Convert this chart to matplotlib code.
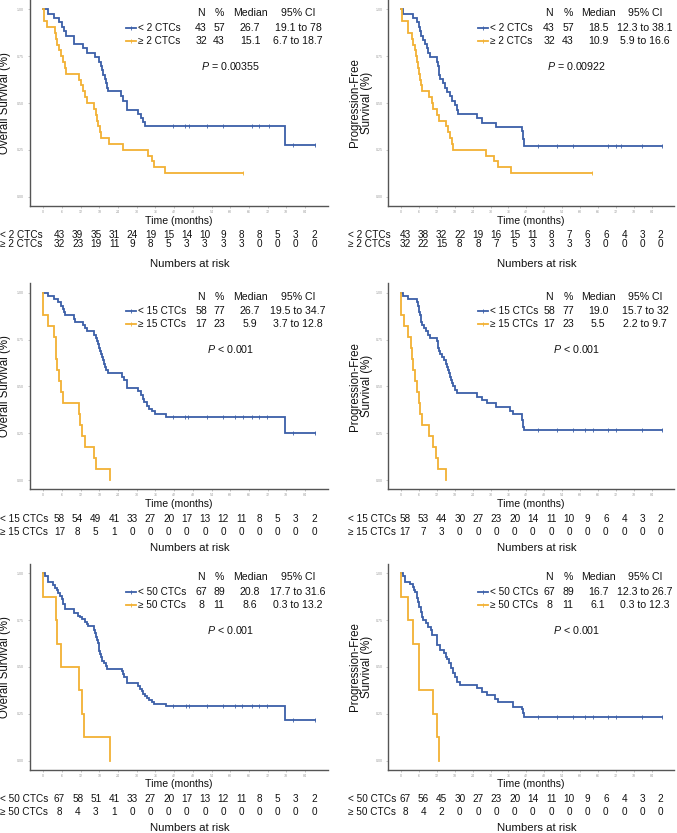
import matplotlib
matplotlib.use("Agg")
import matplotlib.pyplot as plt
import numpy as np

plt.rcParams['font.family'] = ['Liberation Sans', 'DejaVu Sans']
plt.rcParams['mathtext.fontset'] = 'custom'
plt.rcParams['mathtext.it'] = 'Liberation Sans:italic'
plt.rcParams['mathtext.rm'] = 'Liberation Sans'

# ---------------------------------------------------------------- data
time_ticks = [0, 6, 12, 18, 24, 30, 36, 42, 48, 54, 60, 66, 72, 78, 84]
y_ticks = [0.00, 0.25, 0.50, 0.75, 1.00]

# Panel 1: OS, 2 CTCs
os2_lo_t = [0, 1.39, 3.53, 5.03, 5.89, 6.63, 7.28, 9.84, 12.63, 14.13, 16.59, 17.87, 18.51, 18.94, 19.26,
            19.69, 20.12, 20.44, 20.87, 24.83, 25.68, 26.75, 30.50, 31.25, 31.89, 32.64, 77.58]
os2_lo_s = [1.0, 0.977, 0.953, 0.930, 0.907, 0.884, 0.860, 0.814, 0.791, 0.767, 0.744, 0.721, 0.698, 0.674, 0.651,
            0.628, 0.605, 0.581, 0.565, 0.535, 0.510, 0.465, 0.442, 0.420, 0.400, 0.375, 0.275]
os2_lo_end = 87.2
os2_lo_cens = [41.7, 45.5, 46.9, 52.4, 57.6, 66.9, 69.3, 72.6, 80.3, 87.2]
os2_hi_t = [0, 0.2, 1.2, 3.75, 4.07, 4.49, 5.14, 5.78, 6.31, 6.85, 7.28, 11.45, 12.09, 12.84, 13.48, 13.91,
            16.37, 16.91, 17.23, 17.66, 18.08, 18.62, 21.19, 25.68, 33.6, 34.78, 35.53, 39.17]
os2_hi_s = [1.0, 0.938, 0.906, 0.875, 0.844, 0.812, 0.781, 0.75, 0.719, 0.688, 0.656, 0.625, 0.594, 0.562, 0.531,
            0.5, 0.469, 0.438, 0.406, 0.375, 0.344, 0.312, 0.281, 0.25, 0.219, 0.188, 0.156, 0.125]
os2_hi_end = 64.0
os2_hi_cens = [64.0]
os2_lo_risk = [43, 39, 35, 31, 24, 19, 15, 14, 10, 9, 8, 8, 5, 3, 2]
os2_hi_risk = [32, 23, 19, 11, 9, 8, 5, 3, 3, 3, 3, 0, 0, 0, 0]
os2_lo_stats = [43, 57, 26.7, 19.1, 78]
os2_hi_stats = [32, 43, 15.1, 6.7, 18.7]
os2_p = "= 0.00355"

# Panel 2: PFS, 2 CTCs
pfs2_lo_t = [0, 0.78, 3.91, 5.25, 6.03, 6.37, 6.70, 7.49, 8.04, 8.60, 9.16, 9.72, 12.18, 12.40, 12.63, 12.85,
             13.07, 14.19, 14.86, 15.53, 16.42, 16.98, 18.10, 18.66, 19.22, 25.36, 27.04, 31.84, 40.45, 40.89, 41.34]
pfs2_lo_s = [1.0, 0.977, 0.953, 0.930, 0.907, 0.884, 0.860, 0.837, 0.814, 0.791, 0.767, 0.744, 0.721, 0.698, 0.674,
             0.651, 0.628, 0.605, 0.581, 0.558, 0.535, 0.512, 0.488, 0.465, 0.442, 0.419, 0.395, 0.372, 0.349, 0.310,
             0.272]
pfs2_lo_end = 87.4
pfs2_lo_cens = [46.0, 52.4, 57.5, 69.5, 72.1, 73.7, 80.7, 87.4]
pfs2_hi_t = [0, 0.2, 2.2, 3.6, 4.1, 4.7, 5.1, 5.5, 5.8, 6.1, 6.5, 6.8, 7.0, 9.5, 10.3, 10.8, 12.0, 12.6, 15.1,
             15.9, 16.4, 17.0, 17.5, 28.5, 31.3, 32.6, 36.8]
pfs2_hi_s = [1.0, 0.938, 0.875, 0.844, 0.812, 0.781, 0.75, 0.719, 0.688, 0.656, 0.625, 0.594, 0.562, 0.531, 0.5,
             0.469, 0.438, 0.406, 0.375, 0.344, 0.312, 0.281, 0.25, 0.219, 0.188, 0.156, 0.125]
pfs2_hi_end = 63.9
pfs2_hi_cens = [63.9]
pfs2_lo_risk = [43, 38, 32, 22, 19, 16, 15, 11, 8, 7, 6, 6, 4, 3, 2]
pfs2_hi_risk = [32, 22, 15, 8, 8, 7, 5, 3, 3, 3, 3, 0, 0, 0, 0]
pfs2_lo_stats = [43, 57, 18.5, 12.3, 38.1]
pfs2_hi_stats = [32, 43, 10.9, 5.9, 16.6]
pfs2_p = "= 0.00922"

# Panel 3: OS, 15 CTCs
os15_lo_t = [0, 1.39, 3.53, 4.82, 5.67, 6.42, 6.74, 7.06, 9.84, 10.06, 12.63, 13.38, 14.13, 16.37, 16.91, 17.34,
             17.66, 17.87, 18.19, 18.51, 18.73, 19.05, 19.37, 19.80, 20.22, 20.87, 25.15, 25.90, 26.75, 30.50,
             31.25, 31.89, 32.32, 33.17, 33.92, 34.78, 35.85, 39.27, 77.58]
os15_lo_s = [1.0, 0.983, 0.966, 0.948, 0.931, 0.914, 0.897, 0.879, 0.862, 0.845, 0.828, 0.810, 0.793, 0.776,
             0.759, 0.741, 0.724, 0.707, 0.690, 0.672, 0.655, 0.638, 0.621, 0.603, 0.586, 0.569, 0.552, 0.534,
             0.490, 0.473, 0.455, 0.434, 0.414, 0.397, 0.380, 0.367, 0.351, 0.338, 0.253]
os15_lo_end = 87.2
os15_lo_cens = [41.7, 45.5, 46.6, 52.4, 57.6, 61.5, 64.2, 66.9, 69.3, 71.7, 80.3, 87.2]
os15_hi_t = [0, 0.05, 1.39, 3.53, 3.96, 4.17, 4.39, 5.03, 5.57, 6.31, 11.45, 11.77, 12.52, 13.27, 16.27,
             16.91, 21.40]
os15_hi_s = [1.0, 0.882, 0.824, 0.765, 0.706, 0.647, 0.588, 0.529, 0.471, 0.412, 0.353, 0.294, 0.235, 0.176,
             0.118, 0.059, 0.0]
os15_hi_end = 21.40
os15_hi_cens = []
os15_lo_risk = [58, 54, 49, 41, 33, 27, 20, 17, 13, 12, 11, 8, 5, 3, 2]
os15_hi_risk = [17, 8, 5, 1, 0, 0, 0, 0, 0, 0, 0, 0, 0, 0, 0]
os15_lo_stats = [58, 77, 26.7, 19.5, 34.7]
os15_hi_stats = [17, 23, 5.9, 3.7, 12.8]
os15_p = "< 0.001"

# Panel 4: PFS, 15 CTCs
pfs15_lo_t = [0, 0.78, 2.46, 5.25, 5.70, 5.92, 6.15, 6.37, 6.59, 6.82, 7.15, 7.60, 8.27, 8.94, 9.72, 12.18,
              12.29, 12.40, 12.63, 13.07, 13.63, 14.41, 15.08, 15.53, 15.87, 16.20, 16.54, 16.87, 17.21, 17.54,
              18.10, 18.88, 25.36, 27.04, 28.72, 31.84, 36.54, 37.65, 40.45, 41.01, 41.34]
pfs15_lo_s = [1.0, 0.983, 0.966, 0.948, 0.931, 0.914, 0.897, 0.879, 0.862, 0.845, 0.828, 0.810, 0.793, 0.776,
              0.759, 0.741, 0.724, 0.707, 0.690, 0.672, 0.655, 0.638, 0.621, 0.603, 0.586, 0.569, 0.552, 0.534,
              0.517, 0.500, 0.483, 0.466, 0.445, 0.427, 0.410, 0.390, 0.370, 0.350, 0.320, 0.285, 0.267]
pfs15_lo_end = 87.4
pfs15_lo_cens = [46.0, 52.4, 57.5, 61.7, 64.5, 69.5, 72.1, 80.7, 87.4]
pfs15_hi_t = [0, 0.05, 1.1, 2.2, 3.4, 3.6, 4.1, 4.7, 5.5, 5.9, 6.4, 6.9, 9.5, 10.6, 11.7, 12.5, 15.1]
pfs15_hi_s = [1.0, 0.882, 0.824, 0.765, 0.706, 0.647, 0.588, 0.529, 0.471, 0.412, 0.353, 0.294, 0.235, 0.176,
              0.118, 0.059, 0.0]
pfs15_hi_end = 15.1
pfs15_hi_cens = []
pfs15_lo_risk = [58, 53, 44, 30, 27, 23, 20, 14, 11, 10, 9, 6, 4, 3, 2]
pfs15_hi_risk = [17, 7, 3, 0, 0, 0, 0, 0, 0, 0, 0, 0, 0, 0, 0]
pfs15_lo_stats = [58, 77, 19.0, 15.7, 32]
pfs15_hi_stats = [17, 23, 5.5, 2.2, 9.7]
pfs15_p = "< 0.001"

# Panel 5: OS, 50 CTCs
os50_lo_t = [0, 0.54, 1.39, 3.21, 3.75, 4.28, 4.82, 5.35, 5.89, 6.42, 6.96, 9.85, 11.24, 11.77, 12.31, 13.38,
             13.91, 14.23, 16.27, 16.59, 16.91, 17.12, 17.44, 17.76, 17.98, 18.30, 18.62, 18.94, 19.48, 20.12,
             20.55, 25.15, 25.47, 25.90, 26.75, 30.50, 31.03, 31.57, 32.10, 32.64, 33.17, 33.92, 34.78, 35.53,
             39.27, 77.58]
os50_lo_s = [1.0, 0.986, 0.956, 0.938, 0.924, 0.909, 0.893, 0.879, 0.863, 0.835, 0.808, 0.786, 0.772, 0.765,
             0.754, 0.742, 0.728, 0.717, 0.698, 0.680, 0.662, 0.644, 0.626, 0.605, 0.587, 0.569, 0.552, 0.534,
             0.520, 0.505, 0.491, 0.477, 0.463, 0.445, 0.416, 0.399, 0.384, 0.370, 0.358, 0.345, 0.335, 0.324,
             0.313, 0.302, 0.292, 0.217]
os50_lo_end = 87.2
os50_lo_cens = [41.7, 45.9, 46.8, 52.4, 57.6, 61.5, 63.9, 66.9, 69.3, 71.7, 80.3, 87.2]
os50_hi_t = [0, 0.05, 4.07, 4.49, 5.67, 11.45, 12.52, 13.06, 21.40]
os50_hi_s = [1.0, 0.875, 0.75, 0.625, 0.5, 0.375, 0.25, 0.125, 0.0]
os50_hi_end = 21.40
os50_hi_cens = []
os50_lo_risk = [67, 58, 51, 41, 33, 27, 20, 17, 13, 12, 11, 8, 5, 3, 2]
os50_hi_risk = [8, 4, 3, 1, 0, 0, 0, 0, 0, 0, 0, 0, 0, 0, 0]
os50_lo_stats = [67, 89, 20.8, 17.7, 31.6]
os50_hi_stats = [8, 11, 8.6, 0.3, 13.2]
os50_p = "< 0.001"

# Panel 6: PFS, 50 CTCs
pfs50_lo_t = [0, 0.78, 1.34, 3.02, 3.91, 4.36, 4.80, 5.25, 5.48, 5.81, 6.15, 6.59, 6.93, 7.49, 8.38, 9.16,
              9.94, 10.28, 12.18, 13.07, 14.41, 15.08, 15.53, 16.20, 16.76, 17.32, 18.10, 18.88, 19.78, 25.36,
              27.04, 28.72, 31.51, 32.63, 37.65, 40.45, 41.01, 41.34]
pfs50_lo_s = [1.0, 0.986, 0.956, 0.943, 0.929, 0.911, 0.899, 0.884, 0.866, 0.849, 0.822, 0.795, 0.769, 0.751,
              0.733, 0.715, 0.698, 0.671, 0.617, 0.591, 0.573, 0.555, 0.541, 0.520, 0.493, 0.466, 0.448, 0.422,
              0.404, 0.386, 0.368, 0.351, 0.331, 0.313, 0.288, 0.274, 0.253, 0.235]
pfs50_lo_end = 87.4
pfs50_lo_cens = [46.0, 52.4, 57.5, 61.7, 64.5, 69.5, 72.1, 80.7, 87.4]
pfs50_hi_t = [0, 0.05, 2.23, 4.13, 5.92, 6.03, 10.84, 12.18, 12.74]
pfs50_hi_s = [1.0, 0.875, 0.75, 0.625, 0.5, 0.375, 0.25, 0.125, 0.0]
pfs50_hi_end = 12.74
pfs50_hi_cens = []
pfs50_lo_risk = [67, 56, 45, 30, 27, 23, 20, 14, 11, 10, 9, 6, 4, 3, 2]
pfs50_hi_risk = [8, 4, 2, 0, 0, 0, 0, 0, 0, 0, 0, 0, 0, 0, 0]
pfs50_lo_stats = [67, 89, 16.7, 12.3, 26.7]
pfs50_hi_stats = [8, 11, 6.1, 0.3, 12.3]
pfs50_p = "< 0.001"

group_labels = [("< 2 CTCs", "\u2265 2 CTCs"), ("< 15 CTCs", "\u2265 15 CTCs"), ("< 50 CTCs", "\u2265 50 CTCs")]
ylabels = ["Overall Survival (%)", "Progression-Free\nSurvival (%)"]
xlabel = "Time (months)"
risk_title = "Numbers at risk"
table_header = ["N", "%", "Median", "95% CI"]

panels = [
    [dict(lo=(os2_lo_t, os2_lo_s, os2_lo_end, os2_lo_cens, os2_lo_risk, os2_lo_stats),
          hi=(os2_hi_t, os2_hi_s, os2_hi_end, os2_hi_cens, os2_hi_risk, os2_hi_stats), p=os2_p),
     dict(lo=(pfs2_lo_t, pfs2_lo_s, pfs2_lo_end, pfs2_lo_cens, pfs2_lo_risk, pfs2_lo_stats),
          hi=(pfs2_hi_t, pfs2_hi_s, pfs2_hi_end, pfs2_hi_cens, pfs2_hi_risk, pfs2_hi_stats), p=pfs2_p)],
    [dict(lo=(os15_lo_t, os15_lo_s, os15_lo_end, os15_lo_cens, os15_lo_risk, os15_lo_stats),
          hi=(os15_hi_t, os15_hi_s, os15_hi_end, os15_hi_cens, os15_hi_risk, os15_hi_stats), p=os15_p),
     dict(lo=(pfs15_lo_t, pfs15_lo_s, pfs15_lo_end, pfs15_lo_cens, pfs15_lo_risk, pfs15_lo_stats),
          hi=(pfs15_hi_t, pfs15_hi_s, pfs15_hi_end, pfs15_hi_cens, pfs15_hi_risk, pfs15_hi_stats), p=pfs15_p)],
    [dict(lo=(os50_lo_t, os50_lo_s, os50_lo_end, os50_lo_cens, os50_lo_risk, os50_lo_stats),
          hi=(os50_hi_t, os50_hi_s, os50_hi_end, os50_hi_cens, os50_hi_risk, os50_hi_stats), p=os50_p),
     dict(lo=(pfs50_lo_t, pfs50_lo_s, pfs50_lo_end, pfs50_lo_cens, pfs50_lo_risk, pfs50_lo_stats),
          hi=(pfs50_hi_t, pfs50_hi_s, pfs50_hi_end, pfs50_hi_cens, pfs50_hi_risk, pfs50_hi_stats), p=pfs50_p)],
]

# ---------------------------------------------------------------- style / layout
W, H = 677, 833
BLUE = "#3c5fa8"
ORANGE = "#f2b134"
TXT = "#111111"
SPINE = "#555555"
TICK = "#9a9a9a"

col_geom = [
    dict(ax_l=29.75, ax_r=327.9, ylab_x=5.5, risk_lab_x=0.5, risk_x0=59.5, risk_dx=3.03 / 1.0,
         nar_x=190, leg_line=(126, 136), leg_lab_x=138, leg_cols=(201, 219, 250, 298), p_x=231),
    dict(ax_l=388, ax_r=673.6, ylab_x=361, risk_lab_x=347.5, risk_x0=405, risk_dx=3.044,
         nar_x=537, leg_line=(478, 488), leg_lab_x=490, leg_cols=(549, 568, 598, 645), p_x=577),
]
row_geom = [
    dict(top=-0.07, bot=206.1, time_y=220.7, r1=235, r2=244.3, nar_y=264.3),
    dict(top=283.3, bot=489.4, time_y=504, r1=519.3, r2=531.7, nar_y=548.3),
    dict(top=564, bot=770, time_y=784, r1=799.3, r2=811.7, nar_y=828.3),
]

fig = plt.figure(figsize=(W / 100, H / 100), dpi=100)
ov = fig.add_axes([0, 0, 1, 1], zorder=10)
ov.set_xlim(0, W)
ov.set_ylim(H, 0)
ov.axis("off")


def fmt(v):
    return ("%g" % v)


def draw_curve(ax, t, s, end, cens, color):
    x = list(t) + [end]
    y = list(s) + [s[-1]]
    ax.step(x, y, where="post", color=color, lw=1.3, solid_joinstyle="miter", zorder=3)
    if cens:
        idx = np.searchsorted(np.array(t), np.array(cens), side="right") - 1
        cy = np.array(s)[idx]
        ax.plot(cens, cy, ls="none", marker="|", ms=3.2, mew=0.6, color=color, zorder=4)


for r, rg in enumerate(row_geom):
    for c, cg in enumerate(col_geom):
        pdat = panels[r][c]
        l, rr = cg["ax_l"], cg["ax_r"]
        top, bot = rg["top"], rg["bot"]
        ax = fig.add_axes([l / W, 1 - bot / H, (rr - l) / W, (bot - top) / H])
        ax.set_xlim(-4.35, 91.35)
        ax.set_ylim(-0.05, 1.05)
        for side in ("top", "right"):
            ax.spines[side].set_visible(False)
        for side in ("left", "bottom"):
            ax.spines[side].set_color(SPINE)
            ax.spines[side].set_linewidth(1.0)
        ax.set_xticks(time_ticks)
        ax.set_xticklabels([str(v) for v in time_ticks])
        ax.set_yticks(y_ticks)
        ax.set_yticklabels(["%.2f" % v for v in y_ticks])
        ax.tick_params(axis="both", labelsize=2.6, labelcolor=TICK, color=TICK, length=1.5, width=0.4)
        ax.tick_params(axis="x", pad=1.2)
        ax.tick_params(axis="y", pad=2.5)

        draw_curve(ax, *pdat["lo"][:4], BLUE)
        draw_curve(ax, *pdat["hi"][:4], ORANGE)

        # y label
        ov.text(cg["ylab_x"], (top + bot) / 2, ylabels[c], rotation=90, ha="center", va="center",
                fontsize=8.3, color=TXT, linespacing=1.0)
        # x label
        ov.text((l + rr) / 2, rg["time_y"], xlabel, ha="center", va="center", fontsize=7.6, color=TXT)

        # legend table
        hy, y1, y2, py = top + 13.5, top + 28, top + 41, top + 66
        for hx, h in zip(cg["leg_cols"], table_header):
            ov.text(hx, hy, h, ha="center", va="center", fontsize=7.6, color=TXT)
        for (key, yy, color, lab) in (("lo", y1, BLUE, group_labels[r][0]), ("hi", y2, ORANGE, group_labels[r][1])):
            x0, x1 = cg["leg_line"]
            ov.plot([x0, x1], [yy, yy], color=color, lw=1.3)
            ov.plot([(x0 + x1) / 2], [yy], marker="|", ms=3.0, mew=0.6, color=color)
            ov.text(cg["leg_lab_x"], yy, lab, ha="left", va="center", fontsize=7.2, color=TXT)
            n, pct, med, cil, cih = pdat[key][5]
            vals = [str(n), str(pct), "%.1f" % med, "%s to %s" % (fmt(cil), fmt(cih))]
            for vx, v in zip(cg["leg_cols"], vals):
                ov.text(vx, yy, v, ha="center", va="center", fontsize=7.6, color=TXT)
        ov.text(cg["p_x"], py, r"$P$ " + pdat["p"], ha="center", va="center", fontsize=7.7, color=TXT)

        # numbers at risk
        for (key, yy, lab) in (("lo", rg["r1"], group_labels[r][0]), ("hi", rg["r2"], group_labels[r][1])):
            ov.text(cg["risk_lab_x"], yy, lab, ha="left", va="center", fontsize=7.2, color=TXT)
            risk = pdat[key][4]
            for tt, v in zip(time_ticks, risk):
                ov.text(cg["risk_x0"] + tt * cg["risk_dx"], yy, str(v), ha="center", va="center",
                        fontsize=7.2, color=TXT)
        ov.text(cg["nar_x"], rg["nar_y"], risk_title, ha="center", va="center", fontsize=8.2, color=TXT)

fig.savefig("out.png", dpi=100, facecolor="white")
